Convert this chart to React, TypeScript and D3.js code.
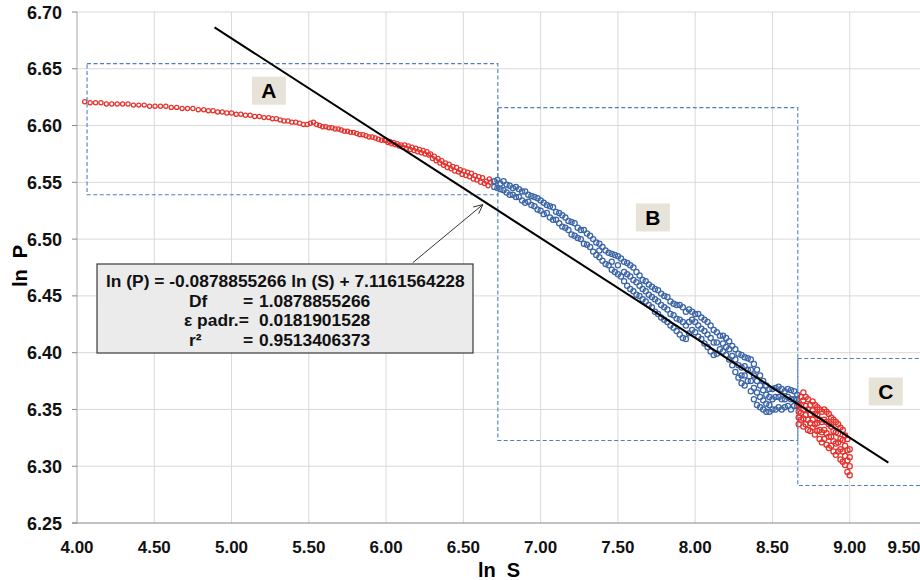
import React from 'react'
import * as d3 from 'd3'

// axis ticks
const xTicks = [4.0, 4.5, 5.0, 5.5, 6.0, 6.5, 7.0, 7.5, 8.0, 8.5, 9.0, 9.5]
const yTicks = [6.25, 6.3, 6.35, 6.4, 6.45, 6.5, 6.55, 6.6, 6.65, 6.7]

// zone A (red) : [ln S, ln P]
const zoneA: [number, number][] = [
  [4.050, 6.621], [4.085, 6.620], [4.120, 6.620], [4.155, 6.620], [4.190, 6.619], [4.225, 6.619],
  [4.260, 6.619], [4.295, 6.619], [4.330, 6.619], [4.365, 6.618], [4.400, 6.618], [4.435, 6.618],
  [4.470, 6.617], [4.505, 6.617], [4.540, 6.617], [4.575, 6.617], [4.610, 6.616], [4.645, 6.616],
  [4.680, 6.615], [4.715, 6.615], [4.750, 6.615], [4.785, 6.614], [4.820, 6.614], [4.850, 6.613],
  [4.880, 6.613], [4.910, 6.612], [4.940, 6.612], [4.970, 6.611], [5.000, 6.611], [5.030, 6.610],
  [5.060, 6.610], [5.090, 6.609], [5.120, 6.609], [5.150, 6.608], [5.180, 6.608], [5.210, 6.607],
  [5.240, 6.607], [5.265, 6.606], [5.290, 6.606], [5.315, 6.605], [5.340, 6.604], [5.365, 6.604],
  [5.390, 6.603], [5.415, 6.603], [5.440, 6.602], [5.465, 6.601], [5.490, 6.601], [5.510, 6.602],
  [5.530, 6.603], [5.550, 6.601], [5.570, 6.600], [5.590, 6.599], [5.610, 6.599], [5.630, 6.598],
  [5.650, 6.598], [5.670, 6.597], [5.690, 6.597], [5.710, 6.596], [5.730, 6.595], [5.750, 6.595],
  [5.770, 6.594], [5.790, 6.594], [5.810, 6.593], [5.830, 6.592], [5.850, 6.592], [5.870, 6.591],
  [5.890, 6.590], [5.910, 6.590], [5.930, 6.589], [5.950, 6.588], [5.970, 6.587], [5.990, 6.587],
  [6.000, 6.587], [6.012, 6.585], [6.024, 6.586], [6.036, 6.584], [6.048, 6.585], [6.060, 6.583],
  [6.072, 6.584], [6.084, 6.582], [6.096, 6.583], [6.108, 6.581], [6.120, 6.583], [6.132, 6.580],
  [6.144, 6.582], [6.156, 6.579], [6.168, 6.581], [6.180, 6.578], [6.192, 6.580], [6.204, 6.577],
  [6.216, 6.579], [6.228, 6.576], [6.240, 6.578], [6.252, 6.575], [6.264, 6.577], [6.276, 6.574],
  [6.288, 6.575], [6.300, 6.571], [6.312, 6.573], [6.324, 6.569], [6.336, 6.571], [6.348, 6.567],
  [6.360, 6.569], [6.372, 6.565], [6.384, 6.567], [6.396, 6.563], [6.408, 6.566], [6.420, 6.562],
  [6.432, 6.564], [6.444, 6.560], [6.456, 6.563], [6.468, 6.559], [6.480, 6.561], [6.492, 6.557],
  [6.504, 6.560], [6.516, 6.556], [6.528, 6.559], [6.540, 6.555], [6.552, 6.558], [6.564, 6.553],
  [6.576, 6.556], [6.588, 6.552], [6.600, 6.555], [6.612, 6.550], [6.624, 6.554], [6.636, 6.549],
  [6.648, 6.551], [6.660, 6.547], [6.668, 6.553], [6.676, 6.550],
]

// zone B (blue) : [ln S, ln P values at that ln S...]
const zoneB: number[][] = [
  [6.70, 6.551, 6.546], [6.72, 6.552, 6.545], [6.74, 6.549, 6.544], [6.76, 6.551, 6.543],
  [6.78, 6.548, 6.541], [6.80, 6.547, 6.539], [6.82, 6.545, 6.539], [6.84, 6.546, 6.537],
  [6.86, 6.544, 6.537], [6.88, 6.542, 6.534], [6.90, 6.542, 6.532], [6.92, 6.539, 6.533],
  [6.94, 6.538, 6.530], [6.96, 6.537, 6.529], [6.98, 6.536, 6.526], [7.00, 6.534, 6.525],
  [7.02, 6.532, 6.522], [7.04, 6.530, 6.523], [7.06, 6.529, 6.519], [7.08, 6.528, 6.517],
  [7.10, 6.524, 6.517], [7.12, 6.523, 6.514], [7.14, 6.521, 6.511], [7.16, 6.519, 6.510],
  [7.18, 6.516, 6.508], [7.20, 6.515, 6.504], [7.22, 6.514, 6.503], [7.24, 6.510, 6.501],
  [7.26, 6.508, 6.500], [7.28, 6.508, 6.496], [7.30, 6.505, 6.495], [7.32, 6.503, 6.493],
  [7.34, 6.500, 6.489], [7.36, 6.497, 6.486], [7.38, 6.496, 6.490, 6.484], [7.40, 6.493, 6.481],
  [7.42, 6.490, 6.478], [7.44, 6.488, 6.477], [7.46, 6.487, 6.480, 6.473], [7.48, 6.486, 6.471],
  [7.50, 6.485, 6.477, 6.469], [7.52, 6.483, 6.467], [7.54, 6.480, 6.471, 6.463],
  [7.56, 6.479, 6.469, 6.459], [7.58, 6.477, 6.467, 6.456], [7.60, 6.475, 6.464, 6.454],
  [7.62, 6.471, 6.462, 6.451], [7.64, 6.468, 6.459, 6.450], [7.66, 6.464, 6.456, 6.447],
  [7.68, 6.463, 6.454, 6.445], [7.70, 6.460, 6.451, 6.442], [7.72, 6.458, 6.449, 6.440],
  [7.74, 6.456, 6.447, 6.436], [7.76, 6.455, 6.445, 6.434], [7.78, 6.452, 6.442, 6.431],
  [7.80, 6.450, 6.440, 6.429], [7.82, 6.449, 6.438, 6.427], [7.84, 6.445, 6.434, 6.424],
  [7.86, 6.443, 6.433, 6.422], [7.88, 6.442, 6.430, 6.419], [7.90, 6.442, 6.429, 6.416],
  [7.92, 6.440, 6.427, 6.413], [7.94, 6.436, 6.424, 6.412], [7.96, 6.438, 6.427, 6.417],
  [7.98, 6.436, 6.429, 6.420], [8.00, 6.434, 6.427, 6.418], [8.02, 6.434, 6.424, 6.414],
  [8.04, 6.431, 6.421, 6.412], [8.06, 6.429, 6.419, 6.408], [8.08, 6.427, 6.416, 6.405],
  [8.10, 6.424, 6.413, 6.401], [8.12, 6.420, 6.409, 6.398], [8.14, 6.418, 6.409, 6.399],
  [8.16, 6.415, 6.403], [8.18, 6.415, 6.408, 6.401], [8.20, 6.413, 6.405, 6.398],
  [8.22, 6.410, 6.403, 6.394], [8.24, 6.406, 6.397, 6.389], [8.26, 6.403, 6.394, 6.383],
  [8.28, 6.399, 6.389, 6.378], [8.30, 6.398, 6.387, 6.380, 6.373], [8.32, 6.396, 6.388, 6.380, 6.371],
  [8.34, 6.395, 6.385, 6.375], [8.36, 6.394, 6.385, 6.375, 6.366], [8.38, 6.390, 6.380, 6.369, 6.359],
  [8.40, 6.385, 6.375, 6.365, 6.354], [8.42, 6.380, 6.371, 6.361, 6.352], [8.44, 6.375, 6.367, 6.358, 6.350],
  [8.46, 6.371, 6.363, 6.355, 6.348], [8.48, 6.368, 6.361, 6.354, 6.348], [8.50, 6.368, 6.359, 6.350],
  [8.52, 6.369, 6.361, 6.350], [8.54, 6.370, 6.361, 6.352], [8.56, 6.368, 6.359, 6.350],
  [8.58, 6.366, 6.359, 6.352], [8.60, 6.368, 6.361, 6.353], [8.62, 6.367, 6.359, 6.350],
  [8.64, 6.366, 6.359, 6.353], [8.66, 6.363, 6.359, 6.353],
]

// zone C (red)
const zoneC: number[][] = [
  [8.670, 6.354, 6.348, 6.343, 6.337], [8.685, 6.361, 6.354, 6.347, 6.341],
  [8.700, 6.365, 6.358, 6.350, 6.342, 6.335], [8.715, 6.361, 6.353, 6.345, 6.337],
  [8.730, 6.359, 6.350, 6.341, 6.332], [8.745, 6.354, 6.346, 6.338, 6.331],
  [8.760, 6.357, 6.349, 6.341, 6.334], [8.775, 6.354, 6.346, 6.337, 6.328],
  [8.790, 6.352, 6.345, 6.338, 6.331], [8.805, 6.350, 6.341, 6.332, 6.324],
  [8.820, 6.348, 6.339, 6.330, 6.321], [8.835, 6.350, 6.341, 6.332, 6.324],
  [8.850, 6.348, 6.339, 6.329, 6.319], [8.865, 6.346, 6.337, 6.326, 6.316],
  [8.880, 6.343, 6.335, 6.326, 6.318], [8.895, 6.341, 6.331, 6.322, 6.313],
  [8.910, 6.339, 6.330, 6.320, 6.310], [8.925, 6.337, 6.329, 6.321, 6.313],
  [8.940, 6.334, 6.324, 6.315, 6.306], [8.955, 6.332, 6.323, 6.313, 6.304],
  [8.970, 6.327, 6.318, 6.309, 6.301], [8.985, 6.324, 6.314, 6.305, 6.295],
  [9.000, 6.315, 6.308, 6.300, 6.292],
]

// linear fit ln P = a ln S + b
const fitA = -0.0878855266
const fitB = 7.1161564228
const fitRange = [4.89, 9.25]

// dashed zone frames: [lnS0, lnS1, lnP top, lnP bottom]
const zoneFrames = [
  [4.065, 6.723, 6.6545, 6.539],
  [6.723, 8.664, 6.6158, 6.3226],
  [8.664, 9.7, 6.3948, 6.283],
]
const zoneNames = ['A', 'B', 'C']
const zoneNameAt = [[5.242, 6.6307], [7.726, 6.5191], [9.233, 6.3658]]

const statLines = [
  ['ln (P) = -0.0878855266 ln (S) + 7.1161564228'],
  ['Df', '=', '1.0878855266'],
  ['ε padr.=', '', '0.0181901528'],
  ['r²', '=', '0.9513406373'],
]
const arrowFrom = [6.173, 6.4793]
const arrowTo = [6.626, 6.5304]

const RED = '#e5322d'
const BLUE = '#3a64a6'
const FONT = '"Liberation Sans", Arial, sans-serif'

export default function App() {
  const W = 920
  const H = 580
  const x = d3.scaleLinear().domain([4, 9.5]).range([77, 927])
  const y = d3.scaleLinear().domain([6.25, 6.7]).range([523, 12])
  const left = x(4)
  const bottom = y(6.25)

  const spread = (rows: number[][]) => rows.flatMap(([s, ...ps]) => ps.map(p => [s, p]))
  const ptsB = spread(zoneB)
  const ptsC = spread(zoneC)

  const ax0 = x(arrowFrom[0]), ay0 = y(arrowFrom[1])
  const ax1 = x(arrowTo[0]), ay1 = y(arrowTo[1])
  const ang = Math.atan2(ay1 - ay0, ax1 - ax0)
  const head = (da: number) => [ax1 - 10 * Math.cos(ang + da), ay1 - 10 * Math.sin(ang + da)]
  const h1 = head(0.45)
  const h2 = head(-0.45)

  const dot = (d: number[], i: number, color: string, r: number) => (
    <circle key={i} cx={x(d[0])} cy={y(d[1])} r={r} fill="none" stroke={color} strokeWidth={1.25} />
  )

  return (
    <div style={{ position: 'absolute', left: 0, top: 0 }}>
      <svg width={W} height={H} style={{ display: 'block', background: '#fff', fontFamily: FONT }}>
        {/* grid */}
        {xTicks.slice(1).map(t => (
          <line key={'gx' + t} x1={x(t)} x2={x(t)} y1={y(6.7)} y2={bottom} stroke="#d9d9d9" strokeWidth={1} />
        ))}
        {yTicks.slice(1).map(t => (
          <line key={'gy' + t} x1={left} x2={W} y1={y(t)} y2={y(t)} stroke="#d9d9d9" strokeWidth={1} />
        ))}
        <line x1={left} x2={left} y1={y(6.7)} y2={bottom} stroke="#a6a6a6" />
        <line x1={left - 5} x2={W} y1={bottom} y2={bottom} stroke="#868686" />
        {yTicks.map(t => (
          <line key={'ty' + t} x1={left - 5} x2={left} y1={y(t)} y2={y(t)} stroke="#868686" />
        ))}

        {/* tick labels */}
        {yTicks.map(t => (
          <text key={'ly' + t} x={62} y={y(t) + 6.5} textAnchor="end" fontSize={18} fontWeight="bold" fill="#111">
            {t.toFixed(2)}
          </text>
        ))}
        {xTicks.map(t => (
          <text key={'lx' + t} x={Math.min(x(t), 904)} y={553} textAnchor="middle" fontSize={17} fontWeight="bold"
            fill="#111" style={{ fontFamily: '"Liberation Sans Narrow", "Arial Narrow", ' + FONT }}>
            {t.toFixed(2)}
          </text>
        ))}
        <text x={499} y={577} textAnchor="middle" fontSize={20} fontWeight="bold" style={{ whiteSpace: 'pre' }}>ln  S</text>
        <text transform="translate(27,266) rotate(-90)" textAnchor="middle" fontSize={20} fontWeight="bold"
          style={{ whiteSpace: 'pre' }}>ln  P</text>

        {/* zone frames */}
        {zoneFrames.map((f, i) => (
          <rect key={'f' + i} x={x(f[0])} y={y(f[2])} width={x(f[1]) - x(f[0])} height={y(f[3]) - y(f[2])}
            fill="none" stroke="#4f7fbf" strokeWidth={1.1} strokeDasharray="4,2.5" />
        ))}

        {/* points */}
        <g>{zoneA.map((d, i) => dot(d, i, RED, 2.1))}</g>
        <g>{ptsB.map((d, i) => dot(d, i, BLUE, 2.6))}</g>
        <g>{ptsC.map((d, i) => dot(d, i, RED, 2.6))}</g>

        {/* fit line */}
        <line x1={x(fitRange[0])} y1={y(fitA * fitRange[0] + fitB)} x2={x(fitRange[1])} y2={y(fitA * fitRange[1] + fitB)}
          stroke="#000" strokeWidth={2} />

        {/* zone names */}
        {zoneNames.map((n, i) => (
          <g key={'n' + n} transform={`translate(${x(zoneNameAt[i][0])},${y(zoneNameAt[i][1])})`}>
            <rect x={-17} y={-14} width={34} height={28} fill="#e7e3d8" />
            <text x={0} y={7.5} textAnchor="middle" fontSize={21} fontWeight="bold" fill="#000">{n}</text>
          </g>
        ))}

        {/* arrow + stats box */}
        <line x1={ax0} y1={ay0} x2={ax1} y2={ay1} stroke="#333" strokeWidth={1} />
        <polyline points={`${h1[0]},${h1[1]} ${ax1},${ay1} ${h2[0]},${h2[1]}`} fill="none" stroke="#333" strokeWidth={1} />
        <rect x={97} y={264} width={376} height={89} fill="#ebebeb" stroke="#3a3a3a" strokeWidth={1.2} />
        <text x={106} y={287} fontSize={17.4} fontWeight="bold" fill="#111">{statLines[0][0]}</text>
        {statLines.slice(1).map((l, i) => (
          <g key={'s' + i} fontSize={17.4} fontWeight="bold" fill="#111">
            <text x={i === 1 ? 184 : 189} y={306.5 + i * 19.5}>{l[0]}</text>
            <text x={243} y={306.5 + i * 19.5}>{l[1]}</text>
            <text x={259} y={306.5 + i * 19.5}>{l[2]}</text>
          </g>
        ))}
      </svg>
    </div>
  )
}
